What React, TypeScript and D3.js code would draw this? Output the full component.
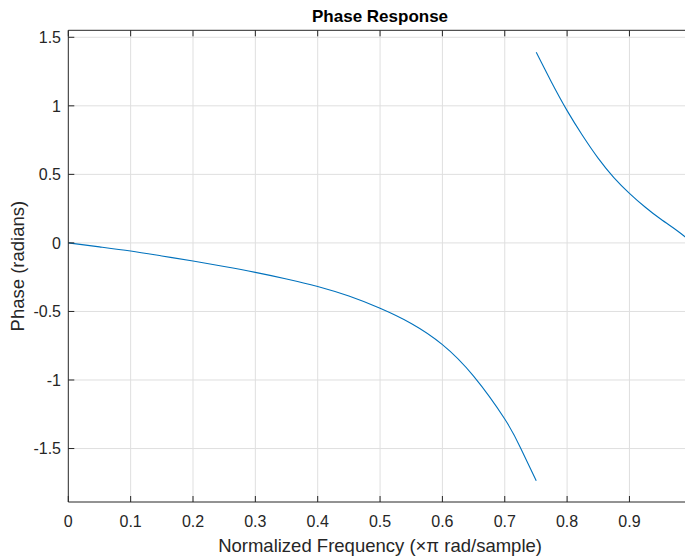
import React from "react";
import * as d3 from "d3";

const freqLow = [0, 0.05, 0.1, 0.15, 0.2, 0.25, 0.3, 0.35, 0.4, 0.45, 0.5, 0.55, 0.6, 0.65, 0.7, 0.725, 0.7505];
const phaseLow = [0, -0.029, -0.059, -0.095, -0.132, -0.172, -0.215, -0.263, -0.318, -0.388, -0.477, -0.588, -0.742, -0.972, -1.285, -1.492, -1.735];
const freqHigh = [0.7505, 0.775, 0.8, 0.825, 0.85, 0.875, 0.9, 0.925, 0.95, 0.975, 0.99];
const phaseHigh = [1.39, 1.172, 0.965, 0.782, 0.617, 0.477, 0.362, 0.262, 0.174, 0.094, 0.041];
const xTicks = [0, 0.1, 0.2, 0.3, 0.4, 0.5, 0.6, 0.7, 0.8, 0.9];
const yTicks = [-1.5, -1, -0.5, 0, 0.5, 1, 1.5];

const W = 685;
const H = 557;
const left = 68.3;
const right = 691.8;
const top = 30.3;
const bottom = 502;

export default function App() {
  const x = d3.scaleLinear().domain([0, 1]).range([left, right]);
  const y = d3.scaleLinear().domain([-1.89, 1.551]).range([bottom, top]);
  const line = d3
    .line<[number, number]>()
    .x((d) => x(d[0]))
    .y((d) => y(d[1]))
    .curve(d3.curveNatural);
  const low = freqLow.map((f, i) => [f, phaseLow[i]] as [number, number]);
  const high = freqHigh.map((f, i) => [f, phaseHigh[i]] as [number, number]);
  const font = "'Liberation Sans', Arial, Helvetica, sans-serif";
  const axisColor = "#262626";
  const gridColor = "#dfdfdf";
  const fmt = (v: number) => (v === 0 ? "0" : String(v));
  const cx = (left + right) / 2;
  return (
    <svg
      width={W}
      height={H}
      style={{ position: "absolute", left: 0, top: 0, background: "#fff" }}
      fontFamily={font}
    >
      <rect x={0} y={0} width={W} height={H} fill="#fff" />
      <defs>
        <clipPath id="plot">
          <rect x={left} y={top} width={right - left} height={bottom - top} />
        </clipPath>
      </defs>
      {xTicks.filter((t) => t > 0).map((t) => (
        <line key={"gx" + t} x1={x(t)} x2={x(t)} y1={top} y2={bottom} stroke={gridColor} strokeWidth={1} />
      ))}
      {yTicks.map((t) => (
        <line key={"gy" + t} x1={left} x2={right} y1={y(t)} y2={y(t)} stroke={gridColor} strokeWidth={1} />
      ))}
      <g clipPath="url(#plot)">
        <path d={line(low) || ""} fill="none" stroke="#0072BD" strokeWidth={1.1} />
        <path d={line(high) || ""} fill="none" stroke="#0072BD" strokeWidth={1.1} />
      </g>
      <line x1={left} x2={left} y1={top} y2={bottom} stroke={axisColor} strokeWidth={1} />
      <line x1={left} x2={right} y1={bottom} y2={bottom} stroke={axisColor} strokeWidth={1} />
      <line x1={left} x2={right} y1={top} y2={top} stroke={axisColor} strokeWidth={1} />
      <line x1={right} x2={right} y1={top} y2={bottom} stroke={axisColor} strokeWidth={1} />
      {xTicks.map((t) => (
        <g key={"tx" + t}>
          <line x1={x(t)} x2={x(t)} y1={bottom} y2={bottom - 6} stroke={axisColor} />
          <line x1={x(t)} x2={x(t)} y1={top} y2={top + 6} stroke={axisColor} />
          <text x={x(t)} y={527} textAnchor="middle" fontSize={16} fill={axisColor}>
            {fmt(t)}
          </text>
        </g>
      ))}
      {yTicks.map((t) => (
        <g key={"ty" + t}>
          <line x1={left} x2={left + 6} y1={y(t)} y2={y(t)} stroke={axisColor} />
          <text x={61} y={y(t) + 5.8} textAnchor="end" fontSize={16} fill={axisColor}>
            {fmt(t)}
          </text>
        </g>
      ))}
      <text x={cx} y={22} textAnchor="middle" fontSize={17} fontWeight="bold" fill="#000">
        Phase Response
      </text>
      <text x={cx} y={551.5} textAnchor="middle" fontSize={18.5} fill={axisColor}>
        Normalized Frequency ({"\u00D7\u03C0"} rad/sample)
      </text>
      <text
        transform={`translate(24, ${(top + bottom) / 2}) rotate(-90)`}
        textAnchor="middle"
        fontSize={18.5}
        fill={axisColor}
      >
        Phase (radians)
      </text>
    </svg>
  );
}
